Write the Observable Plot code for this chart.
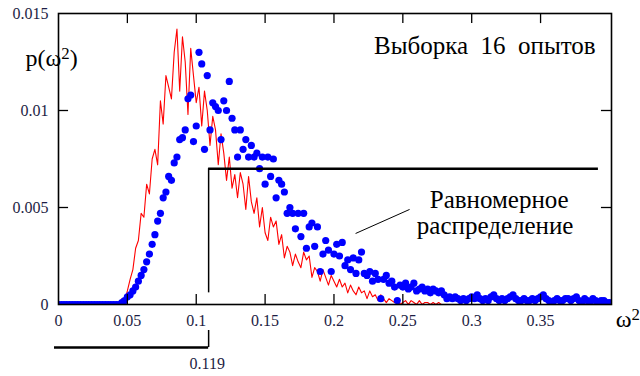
<!DOCTYPE html>
<html>
<head>
<meta charset="utf-8">
<script src="https://cdn.jsdelivr.net/npm/d3@7"></script>
<script src="https://cdn.jsdelivr.net/npm/@observablehq/plot@0.6"></script>
<style>
  html, body { margin: 0; padding: 0; background: #fff; }
  #chart svg { display: block; }
</style>
</head>
<body>
<div id="chart"></div>
<script>
// ---- data ----
const xTicks = [0, 0.05, 0.1, 0.15, 0.2, 0.25, 0.3, 0.35];
const xTickLabels = ["0", "0.05", "0.1", "0.15", "0.2", "0.25", "0.3", "0.35"];
const yTicks = [0, 0.005, 0.01, 0.015];
const yTickLabels = ["0", "0.005", "0.01", "0.015"];

// red curve: x grid starts at 0.044, step 0.002
const redStart = 0.044, redStep = 0.002;
const redValues = [
  0.0000, 0.0003, 0.0002, 0.0007, 0.0013, 0.0018, 0.0029, 0.0033, 0.0047, 0.0045,
  0.0062, 0.0057, 0.0075, 0.0080, 0.0072, 0.0105, 0.0093, 0.0118, 0.0112, 0.0106,
  0.0130, 0.0142, 0.0110, 0.0138, 0.0125, 0.0098, 0.0132, 0.0118, 0.0104, 0.0112,
  0.0092, 0.0110, 0.0100, 0.0082, 0.0097, 0.0090, 0.0072, 0.0088, 0.0078, 0.0064,
  0.0076, 0.0060, 0.0067, 0.0055, 0.0068, 0.0062, 0.0049, 0.0066, 0.0053, 0.0047,
  0.0055, 0.0040, 0.0050, 0.0037, 0.0033, 0.0045, 0.0040, 0.0043, 0.0031, 0.0036,
  0.0024, 0.0030, 0.0027, 0.0020, 0.0026, 0.0022, 0.0019, 0.0027, 0.0023, 0.0025,
  0.0014, 0.0019, 0.0017, 0.0012, 0.0018, 0.0014, 0.0010, 0.0015, 0.0012, 0.0009,
  0.0013, 0.0009, 0.0011, 0.0006, 0.0010, 0.0007, 0.0005, 0.0009, 0.0006, 0.0007,
  0.0003, 0.0007, 0.0004, 0.0005, 0.0002, 0.0005, 0.0003, 0.0001, 0.0003, 0.0002,
  0.0001, 0.0003, 0.0000, 0.0001, 0.0002, 0.0000, 0.0002, 0.0001, 0.0000, 0.0002,
  0.0000, 0.0001, 0.0001, 0.0000, 0.0001, 0.0000, 0.0001, 0.0000, 0.0000, 0.0000
];

// blue points: x grid from 0 to 0.4, step 0.002
const blueStep = 0.002;
const blueValues = [
  0,0,0,0,0,0,0,0,0,0, 0,0,0,0,0,0,0,0,0,0, 0,0,
  0.0000, 0.0001, 0.0002, 0.0004, 0.0005, 0.0007, 0.0009, 0.0012, 0.0015, 0.0018,
  0.0022, 0.0026, 0.0031, 0.0036, 0.0043, 0.0047, 0.0055, 0.0058, 0.0066, 0.0064,
  0.0073, 0.0076, 0.0085, 0.0086, 0.0090, 0.0106, 0.0108, 0.0084, 0.0092, 0.0130,
  0.0124, 0.0080, 0.0118, 0.0090, 0.0104, 0.0102, 0.0100, 0.0085, 0.0105, 0.0100,
  0.0115, 0.0096, 0.0090, 0.0076, 0.0090, 0.0080, 0.0085, 0.0076, 0.0082, 0.0076,
  0.0078, 0.0070, 0.0076, 0.0062, 0.0076, 0.0066, 0.0075, 0.0055, 0.0064, 0.0062,
  0.0058, 0.0047, 0.0050, 0.0047, 0.0039, 0.0047, 0.0035, 0.0047, 0.0029, 0.0040,
  0.0042, 0.0030, 0.0040, 0.0017, 0.0026, 0.0033, 0.0028, 0.0017, 0.0026, 0.0031,
  0.0025, 0.0032, 0.0020, 0.0023, 0.0018, 0.0024, 0.0016, 0.0023, 0.0027, 0.0016,
  0.0015, 0.0017, 0.0012, 0.0016, 0.0013, 0.0003, 0.0013, 0.0015, 0.0011, 0.0012,
  0.0009, 0.0002, 0.0010, 0.0009, 0.0011, 0.0008, 0.0009, 0.0011, 0.0007, 0.0008,
  0.0009, 0.0007, 0.0008, 0.0006, 0.0008, 0.0007, 0.0006, 0.0007, 0.0005, 0.0003,
  0.0004, 0.0003, 0.0004, 0.0003, 0.0002, 0.0003, 0.0002, 0.0003, 0.0004, 0.0003,
  0.0005, 0.0003, 0.0002, 0.0003, 0.0002, 0.0004, 0.0005, 0.0003, 0.0002, 0.0003,
  0.0002, 0.0003, 0.0004, 0.0005, 0.0003, 0.0002, 0.0002, 0.0003, 0.0002, 0.0002,
  0.0003, 0.0002, 0.0003, 0.0004, 0.0005, 0.0003, 0.0002, 0.0001, 0.0002, 0.0003,
  0.0002, 0.0002, 0.0003, 0.0003, 0.0002, 0.0003, 0.0004, 0.0002, 0.0001, 0.0003,
  0.0002, 0.0001, 0.0003, 0.0002, 0.0001, 0.0002, 0.0002, 0.0001, 0.0001
];

// uniform distribution
const uniformStart = 0.109, uniformEnd = 0.392, uniformHeight = 0.007, uniformFoot = 0.0006;
const markerValue = "0.119";
const yLabel = ["p(ω", "2", ")"];
const xLabel = ["ω", "2", ""];
const titleText = "Выборка  16  опытов";
const noteLines = ["Равномерное", "распределение"];

// ---- build tables ----
const red = [{x: 0, y: 0}].concat(redValues.map((v, i) => ({x: redStart + i * redStep, y: v})));
red.push({x: 0.4, y: 0});
const blue = blueValues.map((v, i) => ({x: i * blueStep, y: v}));

const font = "Liberation Serif";
const labelColor = "#1d1d44";
const tx = 0.0073, ty = 0.00052; // tick lengths (≈10px)

const chart = Plot.plot({
  width: 640,
  height: 376,
  marginTop: 13,
  marginBottom: 72,
  marginLeft: 58,
  marginRight: 29,
  style: {fontFamily: font, fontSize: "16px", background: "#fff"},
  x: {domain: [0, 0.4015], axis: null},
  y: {domain: [0, 0.015], axis: null},
  marks: [
    Plot.line(red, {x: "x", y: "y", stroke: "#ff0000", strokeWidth: 1.1, clip: true}),
    Plot.dot(blue, {x: "x", y: "y", r: 3.6, fill: "#0000ff", stroke: "none", clip: true}),
    // uniform
    Plot.ruleY([uniformHeight], {x1: uniformStart, x2: uniformEnd, stroke: "#000", strokeWidth: 2.5}),
    Plot.ruleX([uniformStart], {y1: uniformFoot, y2: uniformHeight, stroke: "#000", strokeWidth: 1.5}),
    // inside ticks
    Plot.ruleX(xTicks.slice(1), {y1: 0, y2: ty, stroke: "#000", strokeWidth: 1.3}),
    Plot.ruleX(xTicks.slice(1), {y1: 0.015 - ty, y2: 0.015, stroke: "#000", strokeWidth: 1.3}),
    Plot.ruleY(yTicks.slice(1, 3), {x1: 0, x2: tx, stroke: "#000", strokeWidth: 1.3}),
    Plot.ruleY(yTicks.slice(1, 3), {x1: 0.4015 - tx, x2: 0.4015, stroke: "#000", strokeWidth: 1.3}),
    Plot.frame({stroke: "#000", strokeWidth: 1.6}),
    Plot.axisX(xTicks, {tickSize: 0, tickPadding: 10, fontSize: 16, fill: labelColor, label: null, fontFamily: font,
      tickFormat: d => xTickLabels[xTicks.indexOf(d)]}),
    Plot.axisY(yTicks, {tickSize: 0, tickPadding: 10, fontSize: 16, fill: labelColor, label: null, fontFamily: font,
      tickFormat: d => yTickLabels[yTicks.indexOf(d)]}),
    // marker below axis
    Plot.ruleY([-0.00222], {x1: -0.0029, x2: uniformStart, stroke: "#000", strokeWidth: 2.6, clip: false}),
    Plot.ruleX([uniformStart], {y1: -0.00222, y2: -0.00134, stroke: "#000", strokeWidth: 1.5, clip: false}),
    Plot.text([markerValue], {x: 0.108, y: -0.00304, text: d => d, fontSize: 16, fill: labelColor, fontFamily: font}),
    // labels
    Plot.text([yLabel.join("")], {x: -0.024, y: 0.0127, text: d => d, textAnchor: "start", fontSize: 24, fill: "#000", fontFamily: font}),
    Plot.text([xLabel.join("")], {x: 0.4045, y: -0.00077, text: d => d, textAnchor: "start", fontSize: 24, fill: "#000", fontFamily: font}),
    Plot.text([titleText], {x: 0.390, y: 0.01335, text: d => d, textAnchor: "end", fontSize: 25, fill: "#000", fontFamily: font}),
    Plot.text([noteLines[0]], {x: 0.320, y: 0.0054, text: d => d, fontSize: 25, fill: "#000", fontFamily: font}),
    Plot.text([noteLines[1]], {x: 0.317, y: 0.00407, text: d => d, fontSize: 25, fill: "#000", fontFamily: font}),
    Plot.link([0], {x1: 0.2157, y1: 0.00366, x2: 0.2549, y2: 0.0049, stroke: "#000", strokeWidth: 1})
  ]
});

// superscripts for the axis labels
function superscript(parts) {
  const full = parts.join("");
  chart.querySelectorAll("text").forEach(t => {
    if (t.textContent !== full) return;
    t.textContent = "";
    const ns = "http://www.w3.org/2000/svg";
    const a = document.createElementNS(ns, "tspan"); a.textContent = parts[0]; t.appendChild(a);
    const b = document.createElementNS(ns, "tspan"); b.textContent = parts[1];
    b.setAttribute("dy", "-0.42em"); b.setAttribute("font-size", "70%"); t.appendChild(b);
    if (parts[2]) {
      const c = document.createElementNS(ns, "tspan"); c.textContent = parts[2];
      c.setAttribute("dy", "0.3em"); t.appendChild(c);
    }
  });
}
superscript(yLabel);
superscript(xLabel);
document.getElementById("chart").append(chart);
</script>
</body>
</html>
